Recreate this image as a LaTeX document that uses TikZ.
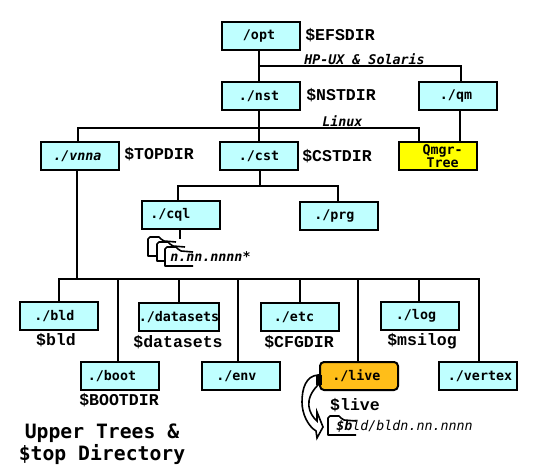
\documentclass[tikz,border=0pt]{standalone}
\usepackage{fontspec}
\newfontfamily\monosans{DejaVu Sans Mono}
\newfontfamily\monoslab{Liberation Mono}
\definecolor{dirfill}{RGB}{191,255,255}
\definecolor{qmgrfill}{RGB}{255,255,0}
\definecolor{livefill}{RGB}{255,190,25}
\usetikzlibrary{calc}
\tikzset{
  dirbox/.style={draw=black, line width=1.5pt, fill=dirfill, minimum width=58.5pt,
              minimum height=21pt, inner sep=0pt, align=center,
              font=\monosans\bfseries\fontsize{10}{10}\selectfont},
  livebox/.style={dirbox, fill=livefill, rounded corners=3pt},
  qmgrbox/.style={dirbox, fill=qmgrfill},
  dirlabel/.style={inner sep=0pt, font=\monoslab\bfseries\fontsize{12.4}{12.4}\selectfont},
  oslabel/.style={inner sep=0pt, font=\monosans\bfseries\itshape\fontsize{10}{10}\selectfont},
  verlabel/.style={inner sep=0pt, font=\monosans\itshape\fontsize{10}{10}\selectfont},
  titlelabel/.style={inner sep=0pt, align=center, font=\monosans\bfseries\fontsize{14.8}{15}\selectfont},
  link/.style={draw=black, line width=1.5pt},
  folder/.pic={
    \draw[fill=white, line width=1.2pt, line join=round] (28,5) -- (16,4) -- (13,2) -- (11,0) -- (2,0)
      -- (0,2) -- (0,19) -- (28,19);
  },
}
\begin{document}
\begin{tikzpicture}[x=0.75pt, y=-0.75pt]
        \useasboundingbox (0,0) rectangle (539,467);
        % ===================== junctions =====================
        \coordinate (trunk)   at (259,66);
        \coordinate (qmdrop)  at (461,66);
        \coordinate (topbus)  at (259,128);
        \coordinate (vnnatop) at (78,128);
        \coordinate (qmgrtop) at (419,128);
        \coordinate (qmgrqm)  at (460,128);
        \coordinate (cstbus)  at (260,186);
        \coordinate (cqldrop) at (178,186);
        \coordinate (prgdrop) at (338,186);
        \coordinate (cqlfold) at (180,239);
        \coordinate (lowbus)  at (77,279);
        \coordinate (bldbus)  at (59,279);
        \coordinate (bootbus) at (118,279);
        \coordinate (databus) at (179,279);
        \coordinate (envbus)  at (238,279);
        \coordinate (etcbus)  at (300,279);
        \coordinate (livebus) at (358,279);
        \coordinate (logbus)  at (419,279);
        \coordinate (vertbus) at (479,279);
        % ===================== upper boxes =====================
        \node[dirbox] (opt)  at (261,36)  {/opt\hspace{3pt}};
        \node[dirbox] (nst)  at (261,96)  {./nst\hspace{3pt}};
        \node[dirbox] (qm)   at (458,96)  {./qm\hspace{3pt}};
        \node[dirbox] (vnna) at (80,156)  {\itshape ./vnna\hspace{4pt}};
        \node[dirbox] (cst)  at (259,156) {./cst};
        \node[qmgrbox] (qmgr) at (438,156) {\hspace{7pt}Qmgr-\\\hspace{7pt}Tree};
        \node[dirbox] (cql)  at (181,215) {./cql\hspace{16pt}};
        \node[dirbox] (prg)  at (339,216) {./prg\hspace{7pt}};
        % ===================== lower boxes =====================
        \node[dirbox] (bld)      at (59,316)  {./bld\hspace{7pt}};
        \node[dirbox] (boot)     at (120,376) {./boot\hspace{12pt}};
        \node[dirbox] (datasets) at (179,317) {./datasets};
        \node[dirbox] (env)      at (241,376) {./env\hspace{7pt}};
        \node[dirbox] (etc)      at (300,317) {./etc\hspace{9pt}};
        \node[livebox] (live)    at (359,376) {./live\hspace{4pt}};
        \node[dirbox] (log)      at (420,316) {./log\hspace{6pt}};
        \node[dirbox] (vertex)   at (478,376) {\hspace{3pt}./vertex};
        % ===================== connectors =====================
        \draw[link] (opt.south -| trunk) -- (nst.north -| trunk);
        \draw[link] (trunk) -- (qmdrop) -- (qm.north -| qmdrop);
        \draw[link] (nst.south -| topbus) -- (cst.north -| topbus);
        \draw[link] (vnna.north -| vnnatop) -- (vnnatop) -- (qmgrtop) -- (qmgr.north -| qmgrtop);
        \draw[link] (qm.south -| qmgrqm) -- (qmgr.north -| qmgrqm);
        \draw[link] (cst.south -| cstbus) -- (cstbus);
        \draw[link] (cql.north -| cqldrop) -- (cqldrop) -- (prgdrop) -- (prg.north -| prgdrop);
        \draw[link] (cql.south -| cqlfold) -- (cqlfold);
        \draw[link] (vnna.south -| lowbus) -- (lowbus);
        \draw[link] (bld.north -| bldbus) -- (bldbus) -- (vertbus) -- (vertex.north -| vertbus);
        \draw[link] (bootbus) -- (boot.north -| bootbus);
        \draw[link] (databus) -- (datasets.north -| databus);
        \draw[link] (envbus) -- (env.north -| envbus);
        \draw[link] (etcbus) -- (etc.north -| etcbus);
        \draw[link] (livebus) -- (live.north -| livebus);
        \draw[link] (logbus) -- (log.north -| logbus);
        % ===================== variable names =====================
        \node[dirlabel, anchor=west] (efsname) at (305,35)  {\$EFSDIR};
        \node[dirlabel, anchor=west] (nstname) at (306,95)  {\$NSTDIR};
        \node[dirlabel, anchor=west] (topname) at (124,154) {\$TOPDIR};
        \node[dirlabel, anchor=west] (cstname) at (302,156) {\$CSTDIR};
        \node[dirlabel] (bldname)  at (56,340)  {\$bld};
        \node[dirlabel] (bootname) at (119,400) {\$BOOTDIR};
        \node[dirlabel] (dataname) at (178,342) {\$datasets};
        \node[dirlabel] (cfgname)  at (299,342) {\$CFGDIR};
        \node[dirlabel] (logname)  at (422,341) {\$msilog};
        \node[dirlabel] (livename) at (355,405) {\$live};
        % ===================== platform labels =====================
        \node[oslabel, anchor=west] (hpux)  at (304,59)  {HP-UX \& Solaris};
        \node[oslabel, anchor=west] (linux) at (322,121) {Linux};
        % ===================== folders =====================
        \pic at (148,237) {folder};
        \pic at (157,242) {folder};
        \pic at (165,247) {folder};
        \node[verlabel, font=\monosans\bfseries\itshape\fontsize{10}{10}\selectfont, anchor=west] (cqlver) at (170,257) {n.nn.nnnn*};
        \pic at (328,416) {folder};
        \node[verlabel, anchor=west] (livever) at (336,426) {\textbf{\$b}ld/bldn.nn.nnnn};
        % ===================== live arrow =====================
        \draw[fill=white, line width=1.2pt, line join=miter]
          ($(live.west)+(-1,-1)$) .. controls (306,376) and (302,388) .. (302,402)
          .. controls (302,414) and (308,426) .. (316,431) -- (317,438) -- (323,427) -- (317,412) -- (317,421)
          .. controls (309,414) and (303,400) .. ($(live.west)+(-1,9)$) -- cycle;
        \fill[black] (316,375) rectangle (322,385);
        % ===================== title =====================
        \node[titlelabel] (title) at (102,444) {Upper Trees \&\\\$top Directory};
      \end{tikzpicture}
\end{document}
